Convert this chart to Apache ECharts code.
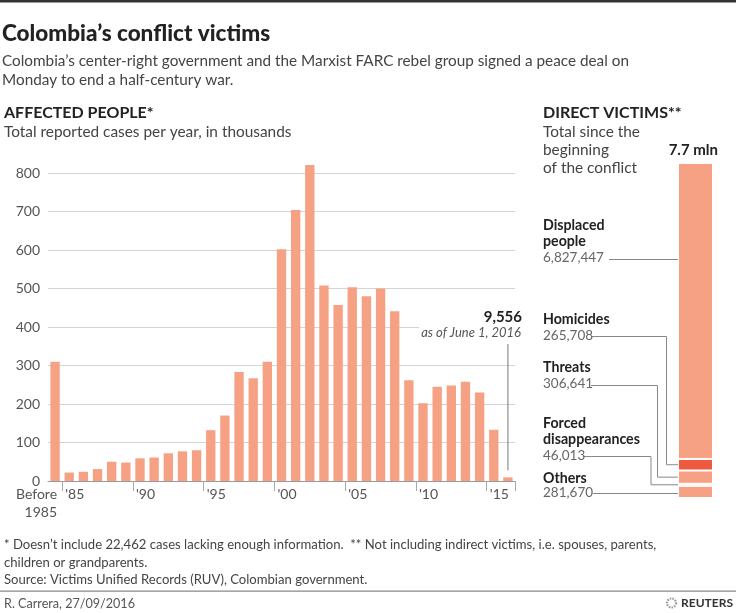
<!DOCTYPE html>
<html><head><meta charset="utf-8">
<script src="https://cdn.jsdelivr.net/npm/echarts@6/dist/echarts.min.js"></script>
<style>html,body{margin:0;padding:0;background:#fff}#c{width:736px;height:613px}</style>
</head><body><div id="c"></div>
<script>
// ---------- DATA ----------
const years = ['Before 1985','1985','1986','1987','1988','1989','1990','1991','1992','1993','1994','1995','1996','1997','1998','1999','2000','2001','2002','2003','2004','2005','2006','2007','2008','2009','2010','2011','2012','2013','2014','2015','2016'];
// thousands of affected people per year
const affected = [310,22,24,31,50,48,59,61,72,77,80,132,170,283,267,310,602,704,821,508,457,503,480,500,441,262,202,245,248,258,230,133,9.556];
const tickYears = ['Before 1985','1985','1990','1995','2000','2005','2010','2015'];
const tickLabels = ['Before\n1985',"'85","'90","'95","'00","'05","'10","'15"];
const yTickMax = 800;
const yTickStep = 100;

// direct victims, stacked bottom -> top
const victimNames = ['Others','Forced disappearances','Threats','Homicides','Displaced people'];
const victimValues = [281670,46013,306641,265708,6827447];
const victimNumbers = ['281,670','46,013','306,641','265,708','6,827,447'];
const victimTitles = ['Others','Forced\ndisappearances','Threats','Homicides','Displaced\npeople'];
const victimColors = ['#f6a184','#fcd3c3','#f6a184','#ee5a3f','#f6a184'];
const totalLabel = '7.7 mln';

// ---------- CHART ----------
const F = 'Lato';
const chart = echarts.init(document.getElementById('c'), null, {renderer:'canvas'});
const victimTotal = victimValues.reduce((a,b)=>a+b,0);

const series = [{
  type:'bar', xAxisIndex:0, yAxisIndex:0, data: affected, barWidth:'66%', clip:false,
  itemStyle:{color:'#f6a184'}, silent:true
}];
victimValues.forEach((v,i)=>{
  series.push({type:'bar', name: victimNames[i], xAxisIndex:1, yAxisIndex:1, stack:'dv', barWidth:'100%',
    data:[v], silent:true, itemStyle:{color:victimColors[i], borderColor:'#fff', borderWidth:1}});
});

chart.setOption({
  animation:false,
  backgroundColor:'#fff',
  textStyle:{fontFamily:F},
  grid:[
    {left:48, right:221, top:173, bottom:132},
    {left:678, right:23, top:163, bottom:115}
  ],
  xAxis:[
    {type:'category', gridIndex:0, data:years, boundaryGap:true,
     axisLine:{lineStyle:{color:'#999', width:1}},
     axisTick:{show:true, length:10, interval:(i,v)=> i>0 && tickYears.includes(v), lineStyle:{color:'#aaa'}},
     axisLabel:{interval:(i,v)=>tickYears.includes(v), margin:4, color:'#555', fontFamily:F, fontSize:14,
       formatter:(v)=>{
         const k = tickYears.indexOf(v); if(k<0) return '';
         if(k===0) return tickLabels[0].split('\n').map(s=>'{b|'+s+'}').join('\n');
         return '{a|'+tickLabels[k]+'}';
       },
       rich:{
         a:{width:8, align:'left', fontFamily:F, fontSize:14, color:'#555', lineHeight:18},
         b:{width:4, align:'right', fontFamily:F, fontSize:14, color:'#555', lineHeight:18}
       }}
    },
    {type:'category', gridIndex:1, data:['Direct victims'], show:false}
  ],
  yAxis:[
    {type:'value', gridIndex:0, min:0, max:yTickMax, interval:yTickStep,
     axisLine:{show:false}, axisTick:{show:false},
     splitLine:{lineStyle:{color:'#d4d4d4', width:1}},
     axisLabel:{color:'#555', fontFamily:F, fontSize:14, margin:8}},
    {type:'value', gridIndex:1, min:0, max:victimTotal, show:false, splitLine:{show:false}}
  ],
  series
});

// ---------- ANNOTATIONS ----------
const G = [];
function T(x,y,text,o){
  o=o||{};
  const w = o.w || (o.bold?'bold ':'');
  G.push({type:'text', x, y, z:10, style:Object.assign({text, fill:o.fill||'#444', font:(o.italic?'italic ':'')+w+(o.size||15)+'px '+F,
    align:o.align||'left', verticalAlign:'middle', lineHeight:o.lh||18}, o.bg?{backgroundColor:o.bg, padding:[0,2,0,2]}:{})});
}
function L(points,color,w){
  G.push({type:'polyline', z:9, shape:{points}, style:{stroke:color||'#888', lineWidth:w||1, fill:null}});
}
// frame
G.push({type:'rect', shape:{x:0,y:0,width:736,height:2.5}, style:{fill:'#333'}});
G.push({type:'rect', shape:{x:0,y:590.5,width:736,height:1.2}, style:{fill:'#888'}});

T(2,34,'Colombia’s conflict victims',{w:'900 ',size:22.5,fill:'#222'});
T(2,61,'Colombia’s center-right government and the Marxist FARC rebel group signed a peace deal on',{size:15.3});
T(2,80,'Monday to end a half-century war.',{size:15.3});
T(4,113,'AFFECTED PEOPLE*',{bold:true,size:16,fill:'#222'});
T(4,132,'Total reported cases per year, in thousands',{size:15.4});
T(543,113,'DIRECT VICTIMS**',{bold:true,size:16,fill:'#222'});
T(543,132,'Total since the',{size:15.4});
T(543,150,'beginning',{size:15.4});
T(543,168,'of the conflict',{size:15.4});

// 2016 note
const x16 = chart.convertToPixel({xAxisIndex:0}, years[years.length-1]);
const y16 = chart.convertToPixel({yAxisIndex:0}, affected[affected.length-1]);
T(522,317,'9,556',{bold:true,size:15,fill:'#222',align:'right'});
T(523,333,'as of June 1, 2016',{italic:true,size:13,fill:'#555',align:'right',bg:'#fff'});
L([[x16,344],[x16,y16-7]],'#777');

// direct victims labels
const barLeft = 678;
const NS = 13.5, BS = 14.2;
T(718,150,totalLabel,{bold:true,size:15,fill:'#222',align:'right'});
function segMid(i){
  let lo=0; for(let k=0;k<i;k++) lo+=victimValues[k];
  return chart.convertToPixel({yAxisIndex:1}, lo+victimValues[i]/2);
}
// Displaced (index 4)
T(543,225,'Displaced',{bold:true,size:BS,fill:'#222'});
T(543,241,'people',{bold:true,size:BS,fill:'#222'});
T(543,258,victimNumbers[4],{size:NS,fill:'#666'});
L([[609,259.5],[barLeft,259.5]]);
// Homicides (3)
T(543,319,victimTitles[3],{bold:true,size:BS,fill:'#222'});
T(543,336,victimNumbers[3],{size:NS,fill:'#666'});
L([[591,336.5],[666.5,336.5],[666.5,segMid(3)],[barLeft,segMid(3)]]);
// Threats (2)
T(543,367,victimTitles[2],{bold:true,size:BS,fill:'#222'});
T(543,384,victimNumbers[2],{size:NS,fill:'#666'});
L([[591,385.5],[657.5,385.5],[657.5,segMid(2)],[barLeft,segMid(2)]]);
// Forced disappearances (1)
T(543,423,'Forced',{bold:true,size:BS,fill:'#222'});
T(543,439,'disappearances',{bold:true,size:BS,fill:'#222'});
T(543,456,victimNumbers[1],{size:NS,fill:'#666'});
L([[583,456.5],[651,456.5],[651,segMid(1)],[barLeft,segMid(1)]]);
// Others (0)
T(543,478,victimTitles[0],{bold:true,size:BS,fill:'#222'});
T(543,493,victimNumbers[0],{size:NS,fill:'#666'});
L([[593,493.5],[barLeft,493.5]]);

// footer
T(4,545,'* Doesn’t include 22,462 cases lacking enough information.  ** Not including indirect victims, i.e. spouses, parents,',{size:13.1});
T(4,563,'children or grandparents.',{size:13.1});
T(4,580,'Source: Victims Unified Records (RUV), Colombian government.',{size:13.1});
T(4,604,'R. Carrera, 27/09/2016',{size:12.6,fill:'#555'});
G.push({type:'circle', shape:{cx:671.5,cy:603,r:4.5}, style:{fill:null, stroke:'#999', lineWidth:2.2, lineDash:[1.5,1.2]}});
T(733,603.5,'REUTERS',{bold:true,size:12,fill:'#333',align:'right'});

chart.setOption({graphic:{elements:G}});
</script>
</body></html>
